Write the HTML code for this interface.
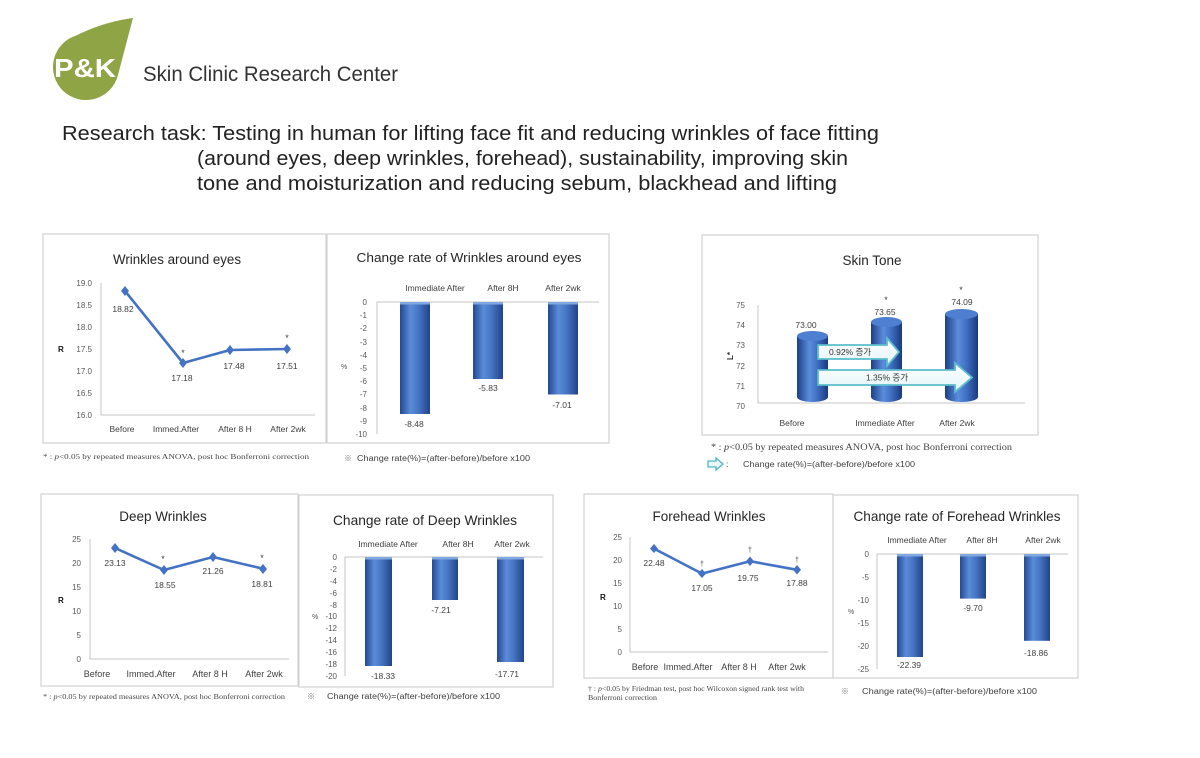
<!DOCTYPE html>
<html>
<head>
<meta charset="utf-8">
<style>
html,body{margin:0;padding:0;background:#fff;}
svg{display:block;}
text{font-family:"Liberation Sans","Noto Sans CJK KR",sans-serif;}
.t{fill:#262626;}
.tk{fill:#595959;font-size:8px;}
.lb{fill:#404040;font-size:8.5px;text-anchor:middle;}
.sr{font-family:"Liberation Serif","Noto Serif CJK SC",serif;fill:#444;}
.ax{stroke:#c6c6c6;stroke-width:1;fill:none;}
.pn{fill:#fff;stroke:#d2d2d2;stroke-width:1.2;}
.ln{fill:none;stroke:#4472c4;stroke-width:2.6;stroke-linejoin:round;}
.mk{fill:#4472c4;}
</style>
</head>
<body>
<svg width="1200" height="758" viewBox="0 0 1200 758" xmlns="http://www.w3.org/2000/svg">
<defs>
  <linearGradient id="bg" x1="0" y1="0" x2="1" y2="0">
    <stop offset="0" stop-color="#234892"/>
    <stop offset="0.35" stop-color="#5b8cd8"/>
    <stop offset="0.6" stop-color="#4676c4"/>
    <stop offset="1" stop-color="#22448a"/>
  </linearGradient>
  <linearGradient id="cg" x1="0" y1="0" x2="1" y2="0">
    <stop offset="0" stop-color="#1d3f86"/>
    <stop offset="0.4" stop-color="#5a8ddb"/>
    <stop offset="0.65" stop-color="#3f6fc2"/>
    <stop offset="1" stop-color="#1a3a7e"/>
  </linearGradient>
  <linearGradient id="ag" x1="0" y1="0" x2="0" y2="1">
    <stop offset="0" stop-color="#ffffff"/>
    <stop offset="1" stop-color="#e2f4f8"/>
  </linearGradient>
</defs>
<rect width="1200" height="758" fill="#fff"/>

<!-- Logo -->
<path d="M133 18 Q125 48 117.9 75.4 A33 33 0 1 1 76.3 35.5 Q103 22 133 18 Z" fill="#8fa445"/>
<text x="54" y="77" font-size="26" font-weight="bold" fill="#fff" textLength="62" lengthAdjust="spacingAndGlyphs">P&amp;K</text>
<text x="143" y="81" font-size="21" fill="#333" textLength="255" lengthAdjust="spacingAndGlyphs">Skin Clinic Research Center</text>

<!-- Header text -->
<text x="62" y="140" font-size="20" fill="#222" textLength="817" lengthAdjust="spacingAndGlyphs">Research task: Testing in human for lifting face fit and reducing wrinkles of face fitting</text>
<text x="197" y="165" font-size="20" fill="#222" textLength="651" lengthAdjust="spacingAndGlyphs">(around eyes, deep wrinkles, forehead), sustainability, improving skin</text>
<text x="197" y="190" font-size="20" fill="#222" textLength="640" lengthAdjust="spacingAndGlyphs">tone and moisturization and reducing sebum, blackhead and lifting</text>

<!-- Panel 1: Wrinkles around eyes -->
<rect class="pn" x="43" y="234" width="283" height="209"/>
<text class="t" x="177" y="264" font-size="13.5" text-anchor="middle" textLength="128" lengthAdjust="spacingAndGlyphs">Wrinkles around eyes</text>
<g class="tk" text-anchor="end">
  <text x="92" y="286">19.0</text><text x="92" y="308">18.5</text><text x="92" y="330">18.0</text>
  <text x="92" y="352">17.5</text><text x="92" y="374">17.0</text><text x="92" y="396">16.5</text><text x="92" y="418">16.0</text>
</g>
<path class="ax" d="M101 283 V415 H315"/>
<text x="58" y="352" font-size="8" font-weight="bold" fill="#111">R</text>
<polyline class="ln" points="125,291 183,363 230,350 287,349"/>
<g class="mk">
  <polygon points="125,286 129,291 125,296 121,291"/>
  <polygon points="183,358 187,363 183,368 179,363"/>
  <polygon points="230,345 234,350 230,355 226,350"/>
  <polygon points="287,344 291,349 287,354 283,349"/>
</g>
<g class="lb">
  <text x="123" y="312">18.82</text><text x="182" y="381">17.18</text>
  <text x="234" y="369">17.48</text><text x="287" y="369">17.51</text>
  <text x="183" y="356" font-size="9">*</text><text x="287" y="341" font-size="9">*</text>
  <text x="122" y="432">Before</text><text x="176" y="432">Immed.After</text>
  <text x="235" y="432">After 8 H</text><text x="288" y="432">After 2wk</text>
</g>
<text class="sr" x="43" y="459" font-size="7.5" textLength="266" lengthAdjust="spacingAndGlyphs">* : <tspan font-style="italic">p</tspan>&lt;0.05 by repeated measures ANOVA, post hoc Bonferroni correction</text>

<!-- Panel 2: Change rate of Wrinkles around eyes -->
<rect class="pn" x="327" y="234" width="282" height="209"/>
<text class="t" x="469" y="262" font-size="13" text-anchor="middle" textLength="225" lengthAdjust="spacingAndGlyphs">Change rate of Wrinkles around eyes</text>
<g class="lb" font-size="8">
  <text x="435" y="291">Immediate After</text><text x="503" y="291">After 8H</text><text x="563" y="291">After 2wk</text>
</g>
<path class="ax" d="M377 434 V302 H599"/>
<g class="tk" text-anchor="end">
  <text x="367" y="305">0</text><text x="367" y="318">-1</text><text x="367" y="331">-2</text><text x="367" y="345">-3</text>
  <text x="367" y="358">-4</text><text x="367" y="371">-5</text><text x="367" y="384">-6</text><text x="367" y="397">-7</text>
  <text x="367" y="411">-8</text><text x="367" y="424">-9</text><text x="367" y="437">-10</text>
</g>
<text x="341" y="369" font-size="7" fill="#555">%</text>
<rect x="400" y="302" width="30" height="112" fill="url(#bg)"/>
<rect x="473" y="302" width="30" height="77" fill="url(#bg)"/>
<rect x="548" y="302" width="30" height="92.5" fill="url(#bg)"/>
<g fill="#82a8e2"><rect x="400" y="302" width="30" height="2.5"/><rect x="473" y="302" width="30" height="2.5"/><rect x="548" y="302" width="30" height="2.5"/></g>
<g class="lb" font-size="8">
  <text x="414" y="427">-8.48</text><text x="488" y="391">-5.83</text><text x="562" y="408">-7.01</text>
</g>
<text x="344" y="461" font-size="8" fill="#777">※</text>
<text x="357" y="461" font-size="8" fill="#404040" textLength="173" lengthAdjust="spacingAndGlyphs">Change rate(%)=(after-before)/before x100</text>

<!-- Panel 3: Skin Tone -->
<rect class="pn" x="702" y="235" width="336" height="200"/>
<text class="t" x="872" y="265" font-size="13.5" text-anchor="middle">Skin Tone</text>
<g class="tk" text-anchor="end">
  <text x="745" y="308">75</text><text x="745" y="328">74</text><text x="745" y="348">73</text>
  <text x="745" y="369">72</text><text x="745" y="389">71</text><text x="745" y="409">70</text>
</g>
<path class="ax" d="M758 305 V403 H1025"/>
<text x="0" y="0" font-size="8" font-weight="bold" fill="#333" transform="translate(733,360) rotate(-90)">L*</text>
<!-- cylinders -->
<rect x="797" y="336" width="31" height="61" fill="url(#cg)"/>
<ellipse cx="812.5" cy="397" rx="15.5" ry="5" fill="url(#cg)"/>
<ellipse cx="812.5" cy="336" rx="15.5" ry="5" fill="#4e7fd0"/>
<rect x="871" y="322" width="31" height="75" fill="url(#cg)"/>
<ellipse cx="886.5" cy="397" rx="15.5" ry="5" fill="url(#cg)"/>
<ellipse cx="886.5" cy="322" rx="15.5" ry="5" fill="#4e7fd0"/>
<rect x="945" y="314" width="33" height="83" fill="url(#cg)"/>
<ellipse cx="961.5" cy="397" rx="16.5" ry="5" fill="url(#cg)"/>
<ellipse cx="961.5" cy="314" rx="16.5" ry="5" fill="#4e7fd0"/>
<g class="lb">
  <text x="806" y="328">73.00</text><text x="885" y="315">73.65</text><text x="962" y="305">74.09</text>
  <text x="886" y="303" font-size="9">*</text><text x="961" y="293" font-size="9">*</text>
  <text x="792" y="426">Before</text><text x="885" y="426">Immediate After</text><text x="957" y="426">After 2wk</text>
</g>
<!-- arrows -->
<polygon points="818,345 887,345 887,338 899,352 887,366 887,359 818,359" fill="url(#ag)" stroke="#5bbdcc" stroke-width="1.8"/>
<polygon points="818,370 955,370 955,363 972,377.5 955,392 955,385 818,385" fill="url(#ag)" stroke="#5bbdcc" stroke-width="1.8"/>
<text x="829" y="355" font-size="8.5" fill="#333">0.92% 증가</text>
<text x="887" y="380.5" font-size="8.5" fill="#333" text-anchor="middle">1.35% 증가</text>
<text class="sr" x="711" y="450" font-size="9.5" textLength="301" lengthAdjust="spacingAndGlyphs">* : <tspan font-style="italic">p</tspan>&lt;0.05 by repeated measures ANOVA, post hoc Bonferroni correction</text>
<polygon points="708,461 716,461 716,458 723,464 716,470 716,467 708,467" fill="#e8f7fa" stroke="#4ab5c8" stroke-width="1.3"/>
<text x="726" y="467" font-size="8.5" fill="#404040">:</text>
<text x="743" y="467" font-size="8.5" fill="#404040" textLength="172" lengthAdjust="spacingAndGlyphs">Change rate(%)=(after-before)/before x100</text>

<!-- Panel 4: Deep Wrinkles -->
<rect class="pn" x="41" y="494" width="257" height="192"/>
<text class="t" x="163" y="521" font-size="13.5" text-anchor="middle">Deep Wrinkles</text>
<g class="tk" text-anchor="end">
  <text x="81" y="542">25</text><text x="81" y="566">20</text><text x="81" y="590">15</text>
  <text x="81" y="614">10</text><text x="81" y="638">5</text><text x="81" y="662">0</text>
</g>
<path class="ax" d="M90 539 V659 H289"/>
<text x="58" y="603" font-size="8" font-weight="bold" fill="#111">R</text>
<polyline class="ln" points="115,548 164,570 213,557 263,568.7"/>
<g class="mk">
  <polygon points="115,543 119,548 115,553 111,548"/>
  <polygon points="164,565 168,570 164,575 160,570"/>
  <polygon points="213,552 217,557 213,562 209,557"/>
  <polygon points="263,564 267,569 263,574 259,569"/>
</g>
<g class="lb">
  <text x="115" y="566">23.13</text><text x="165" y="588">18.55</text>
  <text x="213" y="574">21.26</text><text x="262" y="587">18.81</text>
  <text x="163" y="562" font-size="9">*</text><text x="262" y="561" font-size="9">*</text>
  <g font-size="9"><text x="97" y="677">Before</text><text x="151" y="677">Immed.After</text>
  <text x="210" y="677">After 8 H</text><text x="264" y="677">After 2wk</text></g>
</g>
<text class="sr" x="43" y="699" font-size="7" textLength="242" lengthAdjust="spacingAndGlyphs">* : <tspan font-style="italic">p</tspan>&lt;0.05 by repeated measures ANOVA, post hoc Bonferroni correction</text>

<!-- Panel 5: Change rate of Deep Wrinkles -->
<rect class="pn" x="299" y="495" width="254" height="192"/>
<text class="t" x="425" y="525" font-size="14" text-anchor="middle" textLength="184" lengthAdjust="spacingAndGlyphs">Change rate of Deep Wrinkles</text>
<g class="lb" font-size="8">
  <text x="388" y="547">Immediate After</text><text x="458" y="547">After 8H</text><text x="512" y="547">After 2wk</text>
</g>
<path class="ax" d="M345 676 V557 H543"/>
<g class="tk" text-anchor="end" font-size="7.5">
  <text x="337" y="560">0</text><text x="337" y="572">-2</text><text x="337" y="584">-4</text><text x="337" y="596">-6</text>
  <text x="337" y="608">-8</text><text x="337" y="619">-10</text><text x="337" y="631">-12</text><text x="337" y="643">-14</text>
  <text x="337" y="655">-16</text><text x="337" y="667">-18</text><text x="337" y="679">-20</text>
</g>
<text x="312" y="619" font-size="7" fill="#555">%</text>
<rect x="365" y="557" width="27" height="109" fill="url(#bg)"/>
<rect x="432" y="557" width="26" height="43" fill="url(#bg)"/>
<rect x="497" y="557" width="27" height="105" fill="url(#bg)"/>
<g fill="#82a8e2"><rect x="365" y="557" width="27" height="2.5"/><rect x="432" y="557" width="26" height="2.5"/><rect x="497" y="557" width="27" height="2.5"/></g>
<g class="lb" font-size="8">
  <text x="383" y="679">-18.33</text><text x="441" y="613">-7.21</text><text x="507" y="677">-17.71</text>
</g>
<text x="307" y="699" font-size="8" fill="#777">※</text>
<text x="327" y="699" font-size="8" fill="#404040" textLength="173" lengthAdjust="spacingAndGlyphs">Change rate(%)=(after-before)/before x100</text>

<!-- Panel 6: Forehead Wrinkles -->
<rect class="pn" x="584" y="494" width="249" height="184"/>
<text class="t" x="709" y="521" font-size="13.5" text-anchor="middle">Forehead Wrinkles</text>
<g class="tk" text-anchor="end">
  <text x="622" y="540">25</text><text x="622" y="563">20</text><text x="622" y="586">15</text>
  <text x="622" y="609">10</text><text x="622" y="632">5</text><text x="622" y="655">0</text>
</g>
<path class="ax" d="M630 537 V652 H828"/>
<text x="600" y="600" font-size="8" font-weight="bold" fill="#111">R</text>
<polyline class="ln" points="654,548.6 702,573.6 750,561.2 797,569.8"/>
<g class="mk">
  <polygon points="654,544 658,548.6 654,553 650,548.6"/>
  <polygon points="702,569 706,573.6 702,578 698,573.6"/>
  <polygon points="750,556.5 754,561.2 750,566 746,561.2"/>
  <polygon points="797,565 801,569.8 797,574.5 793,569.8"/>
</g>
<g class="lb">
  <text x="654" y="566">22.48</text><text x="702" y="591">17.05</text>
  <text x="748" y="581">19.75</text><text x="797" y="586">17.88</text>
  <text x="702" y="566" font-size="7">†</text><text x="750" y="552" font-size="7">†</text><text x="797" y="562" font-size="7">†</text>
  <g font-size="9"><text x="645" y="670">Before</text><text x="688" y="670">Immed.After</text>
  <text x="739" y="670">After 8 H</text><text x="787" y="670">After 2wk</text></g>
</g>
<text class="sr" x="588" y="691" font-size="7" textLength="216" lengthAdjust="spacingAndGlyphs">† : <tspan font-style="italic">p</tspan>&lt;0.05 by Friedman test, post hoc Wilcoxon signed rank test with</text>
<text class="sr" x="588" y="700" font-size="7" textLength="69" lengthAdjust="spacingAndGlyphs">Bonferroni correction</text>

<!-- Panel 7: Change rate of Forehead Wrinkles -->
<rect class="pn" x="833" y="495" width="245" height="183"/>
<text class="t" x="957" y="521" font-size="14" text-anchor="middle" textLength="207" lengthAdjust="spacingAndGlyphs">Change rate of Forehead Wrinkles</text>
<g class="lb" font-size="8">
  <text x="917" y="543">Immediate After</text><text x="982" y="543">After 8H</text><text x="1043" y="543">After 2wk</text>
</g>
<path class="ax" d="M877 669 V554 H1068"/>
<g class="tk" text-anchor="end">
  <text x="869" y="557">0</text><text x="869" y="580">-5</text><text x="869" y="603">-10</text>
  <text x="869" y="626">-15</text><text x="869" y="649">-20</text><text x="869" y="672">-25</text>
</g>
<text x="848" y="614" font-size="7" fill="#555">%</text>
<rect x="897" y="554" width="26" height="103" fill="url(#bg)"/>
<rect x="960" y="554" width="26" height="44.6" fill="url(#bg)"/>
<rect x="1024" y="554" width="26" height="86.8" fill="url(#bg)"/>
<g fill="#82a8e2"><rect x="897" y="554" width="26" height="2.5"/><rect x="960" y="554" width="26" height="2.5"/><rect x="1024" y="554" width="26" height="2.5"/></g>
<g class="lb" font-size="8">
  <text x="909" y="668">-22.39</text><text x="973" y="611">-9.70</text><text x="1036" y="656">-18.86</text>
</g>
<text x="841" y="694" font-size="8" fill="#777">※</text>
<text x="862" y="694" font-size="8" fill="#404040" textLength="175" lengthAdjust="spacingAndGlyphs">Change rate(%)=(after-before)/before x100</text>
</svg>
</body>
</html>
